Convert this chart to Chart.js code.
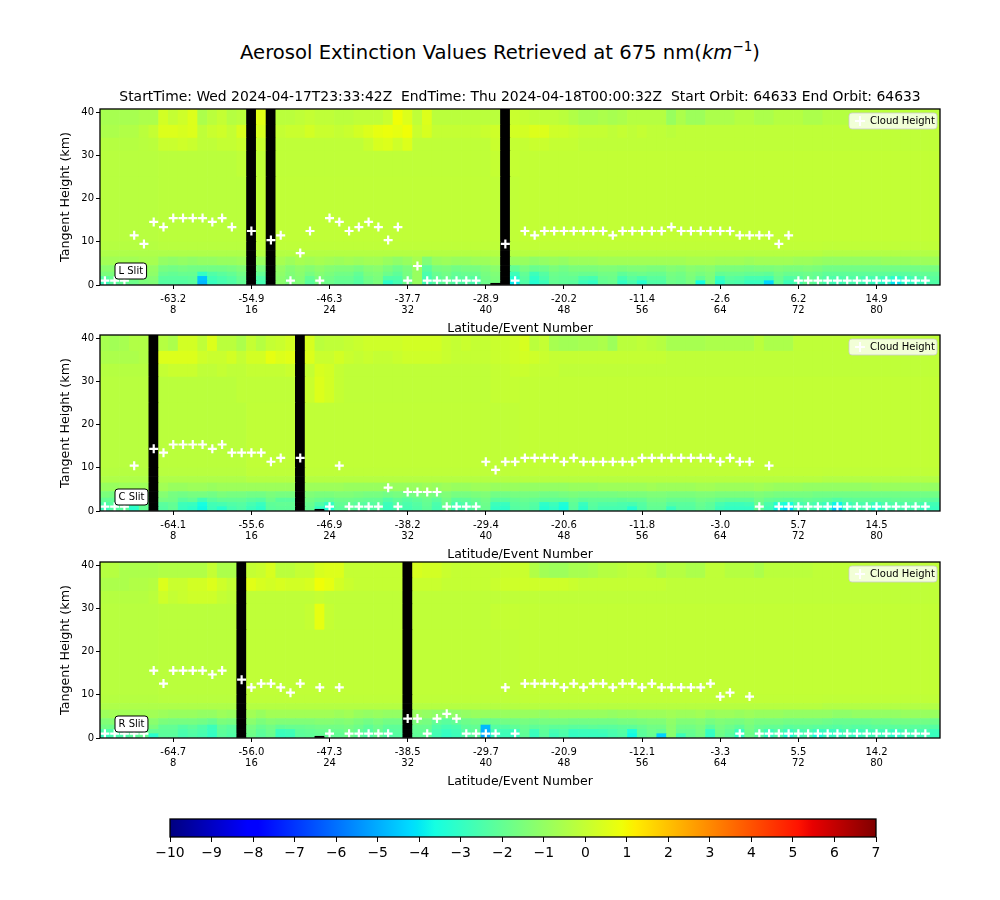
<!DOCTYPE html>
<html lang="en">

<head>
    <meta charset="UTF-8">
    <title>Aerosol Extinction Values</title>
    <script src="https://cdn.jsdelivr.net/npm/chart.js"></script>
    <style>
        body { margin: 0; background: #fff; font-family: "DejaVu Sans", sans-serif; }
        #page { position: relative; width: 1000px; height: 900px; overflow: hidden; }
        #page canvas { position: absolute; left: 0; }
        #suptitle { position: absolute; left: 0; width: 1000px; top: 40px; margin: 0; text-align: center; font-size: 19.6px; font-weight: normal; color: #000; line-height: 26px; }
        #suptitle sup { font-size: 13.5px; line-height: 0; }
    </style>
</head>

<body>
    <div id="page">
        <h1 id="suptitle">Aerosol Extinction Values Retrieved at 675 nm(<i>km</i><sup>−1</sup>)</h1>
        <canvas id="slitL" width="1000" height="266" style="top:70px"></canvas>
        <canvas id="slitC" width="1000" height="237" style="top:325px"></canvas>
        <canvas id="slitR" width="1000" height="237" style="top:552px"></canvas>
        <canvas id="colorbar" width="1000" height="70" style="top:800px"></canvas>
    </div>

    <script>
        const events = [];
        for (let i = 1; i <= 86; i++) events.push(i);

        const tickEvents = [8, 16, 24, 32, 40, 48, 56, 64, 72, 80];
        const latL = ["-63.2", "-54.9", "-46.3", "-37.7", "-28.9", "-20.2", "-11.4", "-2.6", "6.2", "14.9"];
        const latC = ["-64.1", "-55.6", "-46.9", "-38.2", "-29.4", "-20.6", "-11.8", "-3.0", "5.7", "14.5"];
        const latR = ["-64.7", "-56.0", "-47.3", "-38.5", "-29.7", "-20.9", "-12.1", "-3.3", "5.5", "14.2"];
        const colorbarTicks = [-10, -9, -8, -7, -6, -5, -4, -3, -2, -1, 0, 1, 2, 3, 4, 5, 6, 7];

        // km thickness of each stacked band, bottom to top
        const bandThickness = [0.4, 0.6, 1, 1, 1.5, 2, 1.5, 2, 15, 6, 3, 3, 4];

        // events with no retrieval (black columns) and events with only the lowest cell missing
        const maskedL = [16, 18, 42];
        const maskedC = [6, 21];
        const maskedR = [15, 32];
        const thinMaskedL = [41];
        const thinMaskedC = [23];
        const thinMaskedR = [23];

        const cloudL = [1, 1, 1, 11.5, 9.5, 14.6, 13.4, 15.5, 15.5, 15.5,
            15.5, 14.6, 15.5, 13.4, null, 12.5, null, 10.4, 11.5, 1,
            7.4, 12.5, 1, 15.5, 14.6, 12.5, 13.4, 14.6, 13.4, 10.4,
            13.4, 1, 4.4, 1, 1, 1, 1, 1, 1, null,
            null, 9.5, 1, 12.5, 11.5, 12.5, 12.5, 12.5, 12.5, 12.5,
            12.5, 12.5, 11.5, 12.5, 12.5, 12.5, 12.5, 12.5, 13.4, 12.5,
            12.5, 12.5, 12.5, 12.5, 12.5, 11.5, 11.5, 11.5, 11.5, 9.5,
            11.5, 1, 1, 1, 1, 1, 1, 1, 1, 1,
            1, 1, 1, 1, 1, null];
        const cloudC = [1, 1, 1, 10.5, null, 14.4, 13.5, 15.4, 15.4, 15.4,
            15.4, 14.4, 15.4, 13.5, 13.5, 13.5, 13.5, 11.4, 12.3, null,
            12.3, null, null, 1, 10.5, 1, 1, 1, 1, 5.4,
            1, 4.4, 4.4, 4.4, 4.4, 1, 1, 1, 1, 11.4,
            9.5, 11.4, 11.4, 12.3, 12.3, 12.3, 12.3, 11.4, 12.3, 11.4,
            11.4, 11.4, 11.4, 11.4, 11.4, 12.3, 12.3, 12.3, 12.3, 12.3,
            12.3, 12.3, 12.3, 11.4, 12.3, 11.4, 11.4, 1, 10.5, 1,
            1, 1, 1, 1, 1, 1, 1, 1, 1, 1,
            1, 1, 1, 1, 1, null];
        const cloudR = [1, 1, 1, 1, 1, 15.6, 12.6, 15.6, 15.6, 15.6,
            15.6, 14.7, 15.6, null, 13.5, 11.7, 12.6, 12.6, 11.7, 10.5,
            12.6, null, 11.7, 1, 11.7, 1, 1, 1, 1, 1,
            null, 4.5, 4.5, 1, 4.5, 5.6, 4.5, 1, 1, 1,
            1, 11.7, 1, 12.6, 12.6, 12.6, 12.6, 11.7, 12.6, 11.7,
            12.6, 12.6, 11.7, 12.6, 12.6, 11.7, 12.6, 11.7, 11.7, 11.7,
            11.7, 11.7, 12.6, 9.6, 10.5, 1, 9.6, 1, 1, 1,
            1, 1, 1, 1, 1, 1, 1, 1, 1, 1,
            1, 1, 1, 1, 1, null];

        // shared middle of the curtain
        const band6to8 = [-.45, -.45, -.45, -.45, -.45, -.45, -.45, -.45, -.45, -.45,
            -.45, -.45, -.45, -.45, -.45, -.32, -.32, -.32, -.32, -.32,
            -.32, -.32, -.32, -.32, -.32, -.32, -.32, -.32, -.32, -.32,
            -.32, -.32, -.32, -.32, -.32, -.32, -.32, -.32, -.32, -.32,
            -.32, -.32, -.32, -.28, -.28, -.28, -.28, -.28, -.28, -.28,
            -.28, -.28, -.28, -.28, -.28, -.28, -.28, -.28, -.28, -.28,
            -.28, -.28, -.28, -.28, -.28, -.28, -.28, -.28, -.28, -.28,
            -.28, -.28, -.28, -.28, -.38, -.38, -.38, -.38, -.38, -.38,
            -.38, -.38, -.38, -.38, -.38, -.38];
        const band8to10 = [-.3, -.3, -.3, -.3, -.3, -.3, -.25, -.25, -.25, -.25,
            -.25, -.25, -.25, -.25, -.25, -.12, -.12, -.12, -.12, -.12,
            -.12, -.12, -.12, -.12, -.12, -.12, -.12, -.12, -.12, -.12,
            -.12, -.12, -.12, -.12, -.12, -.12, -.12, -.12, -.12, -.12,
            -.12, -.12, -.12, -.08, -.08, -.08, -.08, -.08, -.08, -.08,
            -.08, -.08, -.08, -.08, -.08, -.08, -.08, -.08, -.08, -.08,
            -.08, -.08, -.08, -.08, -.08, -.08, -.08, -.08, -.08, -.08,
            -.08, -.08, -.08, -.08, -.1, -.1, -.1, -.1, -.1, -.1,
            -.1, -.1, -.1, -.1, -.1, -.1];
        const band10to25 = [-.25, -.25, -.25, -.25, -.25, -.25, -.2, -.2, -.2, -.2,
            -.2, -.2, -.2, -.2, -.2, -.08, -.08, -.08, -.08, -.08,
            -.08, -.08, -.08, -.08, -.08, -.08, -.08, -.08, -.08, -.08,
            -.08, -.08, -.08, -.08, -.08, -.08, -.08, -.08, -.08, -.08,
            -.08, -.08, -.08, -.05, -.05, -.05, -.05, -.05, -.05, -.05,
            -.05, -.05, -.05, -.05, -.05, -.05, -.05, -.05, -.05, -.05,
            -.05, -.05, -.05, -.05, -.05, -.05, -.05, -.05, -.05, -.05,
            -.05, -.05, -.05, -.05, -.05, -.05, -.05, -.05, -.05, -.05,
            -.05, -.05, -.05, -.05, -.05, -.05];

        // L slit
        const l0to1 = [-2.8, -2.2, -2.0, -1.8, -1.5, -1.4, -2.3, -2.3, -2.3, -2.2,
            -4.8, -2.9, -2.6, -2.4, -2.0, -1.0, -2.6, -1.0, -1.2, -1.5,
            -1.4, -2.2, -1.6, -1.8, -2.0, -2.0, -2.3, -1.8, -1.5, -3.1,
            -2.6, -1.8, -0.9, -2.7, -2.3, -2.1, -2.4, -2.4, -2.6, -1.8,
            -1.6, -1.0, -3.9, -2.4, -3.3, -2.8, -2.0, -2.1, -2.2, -2.8,
            -3.0, -2.0, -1.9, -3.0, -2.5, -3.2, -2.4, -2.4, -1.8, -1.9,
            -1.6, -3.6, -1.6, -3.2, -2.4, -2.5, -2.9, -2.9, -4.3, -2.0,
            -2.8, -2.5, -2.0, -2.2, -2.6, -2.8, -2.6, -2.6, -2.8, -3.0,
            -3.2, -4.0, -3.2, -3.0, -2.8, -2.4];
        const l1to2 = [-2.3, -1.9, -1.7, -1.6, -1.4, -1.3, -2.2, -2.2, -2.2, -2.1,
            -4.6, -2.7, -2.5, -2.3, -1.9, -1.0, -2.4, -1.0, -1.2, -1.5,
            -1.3, -2.0, -1.5, -1.7, -1.9, -1.9, -2.2, -1.7, -1.5, -2.4,
            -2.4, -1.7, -0.9, -2.6, -2.1, -1.9, -2.2, -2.2, -2.3, -1.7,
            -1.5, -1.0, -3.3, -2.2, -3.1, -2.5, -1.9, -2.0, -2.0, -2.5,
            -2.6, -1.9, -1.8, -2.6, -2.2, -2.5, -2.2, -2.2, -1.7, -1.8,
            -1.5, -2.0, -1.5, -2.8, -2.2, -2.3, -2.6, -2.6, -2.7, -1.9,
            -2.4, -2.3, -1.9, -2.1, -2.4, -2.5, -2.4, -2.4, -2.6, -2.6,
            -2.8, -3.2, -2.8, -2.6, -2.4, -2.2];
        const l2to3 = [-1.5, -1.5, -1.4, -1.3, -1.2, -1.1, -1.9, -2.0, -1.9, -1.9,
            -3.0, -2.4, -2.2, -2.0, -1.7, -1.0, -2.0, -1.0, -1.1, -1.4,
            -1.2, -1.6, -1.3, -1.5, -1.7, -1.7, -2.0, -1.5, -1.4, -1.8,
            -2.1, -1.6, -0.9, -2.5, -1.9, -1.7, -2.0, -1.9, -1.9, -1.6,
            -1.4, -1.0, -2.8, -2.0, -2.8, -2.3, -1.8, -1.9, -1.8, -1.9,
            -1.9, -1.7, -1.7, -2.1, -1.9, -1.8, -1.9, -1.9, -1.6, -1.7,
            -1.4, -1.6, -1.4, -2.0, -1.9, -1.9, -2.0, -2.0, -2.1, -1.7,
            -1.9, -1.9, -1.8, -1.9, -2.1, -2.1, -2.1, -2.1, -2.1, -2.1,
            -2.1, -2.2, -2.2, -2.1, -2.0, -2.0];
        const l3to4 = [-1.2, -1.2, -1.1, -1.1, -1.0, -1.0, -1.6, -1.7, -1.6, -1.7,
            -1.7, -1.7, -1.7, -1.6, -1.4, -1.0, -1.6, -1.0, -1.0, -1.3,
            -1.1, -1.3, -1.1, -1.3, -1.4, -1.4, -1.6, -1.3, -1.2, -1.5,
            -1.8, -1.5, -0.9, -2.2, -1.6, -1.5, -1.7, -1.6, -1.6, -1.4,
            -1.2, -1.0, -2.0, -1.6, -1.9, -1.8, -1.5, -1.7, -1.5, -1.5,
            -1.5, -1.4, -1.4, -1.5, -1.4, -1.4, -1.5, -1.5, -1.3, -1.4,
            -1.2, -1.3, -1.2, -1.5, -1.5, -1.5, -1.6, -1.5, -1.5, -1.4,
            -1.5, -1.5, -1.4, -1.5, -1.7, -1.7, -1.7, -1.7, -1.7, -1.7,
            -1.7, -1.7, -1.7, -1.7, -1.6, -1.6];
        const l4to6 = [-0.7, -0.7, -0.7, -0.7, -0.6, -0.6, -1.0, -1.1, -1.0, -1.1,
            -1.0, -1.0, -0.9, -0.9, -0.8, -0.8, -0.9, -0.8, -0.6, -0.8,
            -0.6, -0.7, -0.6, -0.7, -0.8, -0.7, -0.8, -0.7, -0.7, -0.9,
            -1.1, -0.9, -0.6, -1.4, -0.9, -0.8, -0.9, -0.9, -0.8, -0.8,
            -0.7, -0.8, -0.9, -0.9, -1.1, -1.0, -0.9, -1.0, -0.8, -0.8,
            -0.8, -0.7, -0.7, -0.7, -0.7, -0.7, -0.7, -0.7, -0.7, -0.7,
            -0.6, -0.6, -0.6, -0.7, -0.7, -0.7, -0.8, -0.7, -0.7, -0.7,
            -0.7, -0.8, -0.8, -0.9, -1.0, -1.0, -1.0, -1.0, -1.0, -1.0,
            -0.9, -0.9, -0.9, -0.8, -0.8, -0.8];
        const l25to31 = [-.25, -.25, -.25, -.25, -.25, -.25, -.2, -.2, -.2, -.2,
            -.2, -.2, -.2, -.2, -.1, -.1, -.1, -.1, -.1, -.1,
            -.1, -.1, -.1, -.1, -.1, -.1, -.1, -.1, -.1, -.1,
            -.1, -.1, -.1, -.1, -.1, -.1, -.1, -.1, -.1, -.1,
            0, 0, 0, -.05, -.05, -.05, -.05, -.05, -.05, -.05,
            -.05, -.05, -.05, -.05, -.05, -.05, -.05, -.05, -.05, -.05,
            -.05, -.05, -.05, -.05, -.05, -.05, -.05, -.05, -.05, -.05,
            -.05, -.05, -.05, -.05, -.05, -.05, -.05, -.05, -.05, -.05,
            -.05, -.05, -.05, -.05, -.05, -.05];
        const l31to34 = [-.3, -.3, -.3, -.3, -.25, -.2, .1, .1, .2, .1,
            -.1, -.1, 0, 0, .1, -1, .1, -1, -.1, -.1,
            -.1, -.1, -.1, -.1, -.1, -.1, -.1, .1, .4, .5,
            .2, .5, -.1, -.1, -.1, -.1, -.1, -.1, -.1, -.1,
            .1, -1, 0, 0, .1, .1, 0, 0, 0, -.1,
            -.1, -.1, -.1, -.1, -.1, -.1, -.1, -.1, -.1, -.1,
            -.1, -.1, -.1, -.1, -.1, -.1, -.1, -.1, -.1, -.1,
            -.1, -.1, -.1, -.1, -.1, -.1, -.1, -.1, -.1, -.1,
            -.1, -.1, -.1, -.1, -.1, -.1];
        const l34to37 = [-.5, -.5, -.4, -.4, -.2, 0, .5, .5, .4, .5,
            -.1, .1, .2, 0, .4, -1, .4, -1, 0, .1,
            .1, .3, .1, .1, 0, .1, .3, .5, .7, .8,
            .7, .9, .1, .4, 0, 0, 0, 0, 0, .1,
            .2, -1, .3, .3, .5, .5, .2, .2, .1, 0,
            0, 0, -.1, 0, -.1, 0, -.1, -.1, -.2, -.1,
            -.1, -.1, -.1, -.1, -.1, -.1, -.1, -.1, -.1, -.1,
            -.1, -.1, -.1, -.1, -.1, -.1, -.1, -.1, -.1, -.1,
            -.1, -.1, -.1, -.1, -.1, -.1];
        const l37to41 = [-.6, -.6, -.6, -.6, -.5, -.5, .3, 0, .2, .5,
            -.5, -.2, 0, -.3, -.2, -1, .6, -1, -.2, -.2,
            -.1, 0, -.1, -.1, -.2, -.2, -.1, -.1, -.1, .1,
            .9, .5, -.1, .5, -.2, -.2, -.2, -.2, -.2, -.2,
            -.2, -1, .1, 0, -.1, -.1, -.1, -.2, -.4, -.6,
            -.6, -.5, -.6, -.5, -.3, -.3, -.3, -.3, -.9, -.5,
            -.8, -.8, -.5, -.5, -.5, -.3, -.3, -.5, -.5, -.3,
            -.3, -.3, -.5, -.5, -.3, -.3, -.3, -.2, -.2, -.2,
            -.2, -.2, -.2, -.2, -.2, -.2];

        // C slit
        const c0to1 = [-2.8, -2.3, -2.2, -3.2, -2.0, -1.0, -2.3, -2.0, -2.9, -3.1,
            -3.7, -2.8, -3.2, -2.6, -2.4, -2.8, -3.1, -2.2, -2.1, -2.1,
            -1.0, -2.0, -3.0, -3.4, -2.2, -2.1, -2.3, -2.4, -2.3, -2.9,
            -2.5, -2.6, -2.4, -2.1, -2.6, -1.9, -2.7, -2.5, -2.2, -1.9,
            -3.0, -3.1, -2.3, -2.2, -2.4, -3.3, -3.0, -3.6, -2.2, -3.1,
            -2.3, -2.6, -2.6, -2.6, -3.3, -2.4, -2.0, -2.0, -2.9, -2.3,
            -2.3, -2.0, -2.2, -2.8, -3.0, -3.0, -3.0, -2.0, -2.7, -3.8,
            -4.2, -2.8, -2.5, -2.7, -3.2, -4.5, -3.0, -2.7, -2.6, -3.4,
            -2.7, -2.6, -2.6, -2.6, -2.9, -2.9];
        const c1to2 = [-2.4, -2.2, -2.1, -2.6, -1.9, -1.0, -2.2, -2.0, -2.8, -2.9,
            -3.6, -2.7, -2.6, -2.4, -2.3, -2.6, -2.9, -2.1, -2.0, -2.0,
            -1.0, -1.9, -2.4, -3.0, -2.0, -2.0, -2.2, -2.3, -2.2, -2.8,
            -2.3, -2.5, -2.3, -2.0, -2.5, -1.8, -2.6, -2.4, -2.1, -1.8,
            -2.8, -2.9, -2.2, -2.1, -2.3, -3.1, -2.8, -3.4, -2.1, -2.9,
            -2.2, -2.4, -2.4, -2.5, -2.6, -2.3, -1.9, -1.9, -2.3, -2.2,
            -2.2, -1.9, -2.1, -2.6, -2.8, -2.8, -2.7, -1.9, -2.5, -3.3,
            -3.6, -2.6, -2.4, -2.6, -2.9, -3.8, -2.8, -2.5, -2.5, -2.9,
            -2.5, -2.4, -2.4, -2.4, -2.6, -2.7];
        const c2to3 = [-2.0, -2.0, -1.9, -2.1, -1.7, -1.0, -1.6, -1.7, -2.2, -2.0,
            -2.7, -2.2, -2.0, -2.0, -2.0, -2.2, -2.3, -1.8, -2.2, -2.2,
            -1.0, -1.7, -1.9, -2.0, -1.8, -1.8, -1.9, -2.0, -2.0, -2.4,
            -2.1, -2.3, -2.1, -1.9, -2.2, -1.7, -2.2, -2.1, -1.9, -1.7,
            -2.2, -2.2, -2.0, -1.9, -2.0, -2.1, -2.1, -2.1, -1.9, -2.1,
            -2.0, -2.0, -2.0, -2.1, -2.0, -2.0, -1.7, -1.7, -1.9, -1.9,
            -1.9, -1.7, -1.8, -2.0, -2.1, -2.1, -2.1, -1.7, -2.0, -2.1,
            -2.2, -2.1, -2.0, -2.1, -2.2, -2.4, -2.2, -2.1, -2.1, -2.1,
            -2.1, -2.0, -2.0, -2.0, -2.1, -2.2];
        const c3to4 = [-1.5, -1.6, -1.5, -1.6, -1.4, -1.0, -1.3, -1.6, -1.7, -1.6,
            -1.6, -1.7, -1.5, -1.6, -1.6, -1.7, -1.7, -1.5, -1.6, -1.6,
            -1.0, -1.4, -1.5, -1.5, -1.4, -1.4, -1.5, -1.6, -1.6, -1.7,
            -1.6, -1.7, -1.6, -1.5, -1.6, -1.4, -1.6, -1.6, -1.5, -1.4,
            -1.7, -1.7, -1.6, -1.6, -1.6, -1.7, -1.7, -1.6, -1.5, -1.6,
            -1.6, -1.6, -1.6, -1.5, -1.5, -1.5, -1.4, -1.4, -1.5, -1.5,
            -1.5, -1.4, -1.4, -1.5, -1.5, -1.5, -1.5, -1.4, -1.5, -1.6,
            -1.6, -1.6, -1.6, -1.7, -1.7, -1.7, -1.7, -1.7, -1.7, -1.7,
            -1.7, -1.7, -1.7, -1.7, -1.7, -1.7];
        const c4to6 = [-0.9, -0.9, -0.8, -0.8, -0.8, -0.8, -0.7, -0.9, -0.9, -0.8,
            -0.8, -0.9, -0.8, -0.8, -0.8, -0.8, -0.8, -0.8, -0.8, -0.8,
            -0.8, -0.8, -0.8, -0.8, -0.8, -0.9, -0.9, -0.9, -0.9, -0.9,
            -0.9, -0.9, -0.9, -0.8, -0.9, -0.8, -0.9, -0.9, -0.8, -0.8,
            -0.9, -0.9, -0.9, -1.0, -1.0, -1.0, -1.0, -1.0, -0.9, -0.9,
            -0.9, -0.8, -0.8, -0.8, -0.8, -0.8, -0.7, -0.8, -0.8, -0.8,
            -0.8, -0.7, -0.7, -0.8, -0.8, -0.8, -0.8, -0.7, -0.8, -0.9,
            -0.9, -0.9, -1.0, -1.0, -1.0, -1.0, -1.0, -1.0, -1.0, -0.9,
            -0.9, -0.9, -0.9, -0.9, -0.9, -1.0];
        const c25to31 = [-.25, -.25, -.25, -.25, -.25, -.25, -.2, -.2, -.2, -.2,
            -.2, -.2, -.2, -.2, -.1, -.1, -.1, -.1, -.1, -.1,
            -.1, .1, .5, .3, 0, -.1, -.1, -.1, -.1, -.1,
            -.1, -.1, -.1, -.1, -.1, -.1, -.1, -.1, -.1, -.1,
            0, 0, 0, -.05, -.05, -.05, -.05, -.05, -.05, -.05,
            -.05, -.05, -.05, -.05, -.05, -.05, -.05, -.05, -.05, -.05,
            -.05, -.05, -.05, -.05, -.05, -.05, -.05, -.05, -.05, -.05,
            -.05, -.05, -.05, -.05, -.05, -.05, -.05, -.05, -.05, -.05,
            -.05, -.05, -.05, -.05, -.05, -.05];
        const c31to34 = [-.3, -.3, -.3, -.3, -.3, -1, 0, .1, .1, .1,
            -.1, -.1, 0, -.1, -.1, 0, 0, 0, 0, .1,
            -1, 0, .4, .3, 0, -.1, -.1, -.1, -.1, -.1,
            -.1, -.1, -.1, -.1, -.1, -.1, -.1, -.1, -.1, -.1,
            0, 0, .1, .1, 0, 0, 0, -.1, -.1, -.1,
            -.1, -.1, -.1, -.1, -.1, -.1, -.1, -.1, -.1, -.1,
            -.1, -.1, -.1, -.1, -.1, -.1, -.1, -.1, -.1, -.1,
            -.1, -.1, -.1, -.1, -.1, -.1, -.1, -.1, -.1, -.1,
            -.1, -.1, -.1, -.1, -.1, -.1];
        const c34to37 = [-.5, -.5, -.5, -.5, -.4, -1, .5, .5, .5, .5,
            .2, .1, .1, .3, 0, .3, .3, .7, .5, .6,
            -1, .5, .1, .1, .3, .1, 0, .1, 0, 0,
            .1, .2, .2, .2, .2, .1, 0, 0, 0, 0,
            .1, .1, .2, .3, .2, .1, 0, 0, 0, 0,
            0, 0, 0, 0, 0, 0, 0, 0, -.1, -.1,
            -.1, -.1, -.1, -.1, -.1, -.1, -.1, -.1, -.1, -.1,
            -.1, -.1, -.1, -.1, -.1, -.1, -.1, -.1, -.1, -.1,
            -.1, -.1, -.1, -.1, -.1, -.1];
        const c37to41 = [-.6, -.7, -.6, -.4, -.4, -1, -.3, -.5, .3, .3,
            -.1, .5, -.2, -.2, -.5, 0, -.3, 0, .1, .3,
            -1, .4, -.2, -.1, -.1, 0, .1, .2, .2, .2,
            .2, .3, .3, .3, .3, .1, 0, .1, 0, 0,
            .1, .1, .2, .4, -.2, 0, -.6, -.7, -.7, -.6,
            -.6, -.5, -.8, -.2, -.2, -.1, -.2, -.3, -.6, -.6,
            -.6, -.6, -.5, -.5, -.5, -.5, -.5, -.2, -.5, -.5,
            -.5, -.1, -.1, -.1, -.1, -.1, -.1, -.1, -.1, -.1,
            -.1, -.1, -.1, -.1, -.1, -.1];

        // R slit
        const r0to1 = [-2.9, -2.6, -2.5, -2.2, -2.0, -3.2, -2.2, -2.2, -2.6, -2.4,
            -2.6, -3.0, -2.2, -2.4, -1.0, -1.8, -2.2, -1.9, -2.9, -2.8,
            -2.2, -2.1, -2.0, -2.0, -2.0, -1.8, -2.1, -2.4, -2.0, -2.4,
            -2.3, -1.0, -2.1, -2.1, -2.7, -3.0, -2.8, -2.4, -2.2, -5.0,
            -2.9, -2.8, -3.0, -2.1, -2.9, -2.2, -2.8, -2.5, -3.0, -2.9,
            -2.9, -2.9, -2.6, -2.4, -3.7, -2.2, -1.9, -4.4, -1.2, -2.8,
            -2.0, -1.7, -3.0, -1.8, -2.2, -3.1, -1.8, -2.3, -3.0, -2.5,
            -3.4, -2.8, -2.6, -3.5, -3.0, -3.0, -2.8, -3.0, -2.8, -2.8,
            -2.9, -3.2, -2.8, -2.8, -2.8, -2.9];
        const r1to2 = [-2.5, -2.4, -2.3, -2.1, -1.9, -2.0, -2.1, -2.1, -2.5, -2.3,
            -2.5, -2.9, -2.1, -2.3, -1.0, -1.7, -2.1, -1.8, -2.8, -2.7,
            -2.1, -2.0, -1.9, -1.9, -1.9, -1.7, -2.0, -2.3, -1.9, -2.3,
            -2.2, -1.0, -2.0, -2.0, -2.6, -2.9, -2.7, -2.3, -2.1, -4.9,
            -2.7, -2.7, -2.9, -2.0, -2.8, -2.1, -2.6, -2.4, -2.9, -2.8,
            -2.8, -2.7, -2.5, -2.3, -3.4, -2.1, -1.8, -2.0, -1.2, -1.9,
            -1.9, -1.6, -2.9, -1.7, -2.0, -2.9, -1.7, -2.2, -2.8, -2.4,
            -2.9, -2.6, -2.5, -2.9, -2.9, -2.9, -2.6, -2.8, -2.7, -2.7,
            -2.7, -2.9, -2.6, -2.6, -2.6, -2.8];
        const r2to3 = [-1.7, -1.8, -1.7, -1.6, -1.5, -1.5, -2.0, -2.0, -2.3, -2.1,
            -2.4, -2.8, -2.0, -2.2, -1.0, -1.6, -1.9, -1.7, -2.0, -1.9,
            -1.9, -1.8, -1.7, -1.7, -1.7, -1.6, -1.8, -2.1, -1.8, -2.1,
            -2.1, -1.0, -1.9, -1.9, -2.4, -2.6, -2.5, -2.1, -2.0, -4.8,
            -2.3, -2.3, -2.1, -1.9, -2.1, -2.0, -2.1, -2.1, -2.2, -2.2,
            -2.1, -2.2, -2.2, -2.1, -2.1, -1.9, -1.7, -1.7, -1.2, -1.7,
            -1.7, -1.5, -2.1, -1.6, -1.8, -2.1, -1.6, -1.9, -2.0, -2.0,
            -2.2, -2.1, -2.1, -2.2, -2.2, -2.3, -2.2, -2.3, -2.3, -2.2,
            -2.2, -2.2, -2.1, -2.2, -2.2, -2.3];
        const r3to4 = [-1.4, -1.3, -1.3, -1.3, -1.2, -1.2, -1.5, -1.6, -1.6, -1.6,
            -1.7, -1.9, -1.5, -1.6, -1.0, -1.2, -1.5, -1.3, -1.4, -1.4,
            -1.4, -1.4, -1.3, -1.3, -1.4, -1.3, -1.5, -1.7, -1.5, -1.7,
            -1.7, -1.0, -1.5, -1.6, -2.0, -2.2, -2.0, -1.8, -1.7, -1.9,
            -1.8, -1.7, -1.7, -1.6, -1.7, -1.6, -1.6, -1.6, -1.7, -1.7,
            -1.7, -1.7, -1.7, -1.6, -1.6, -1.5, -1.4, -1.4, -1.1, -1.4,
            -1.4, -1.3, -1.6, -1.4, -1.5, -1.6, -1.4, -1.6, -1.6, -1.6,
            -1.7, -1.7, -1.7, -1.7, -1.8, -1.9, -1.9, -1.9, -1.9, -1.8,
            -1.8, -1.7, -1.7, -1.7, -1.7, -1.8];
        const r4to6 = [-0.8, -0.7, -0.7, -0.7, -0.7, -0.7, -0.8, -0.9, -0.9, -0.9,
            -1.0, -1.0, -0.8, -0.9, -0.8, -0.7, -0.9, -0.7, -0.7, -0.7,
            -0.7, -0.7, -0.7, -0.7, -0.8, -0.7, -0.9, -1.0, -0.9, -1.0,
            -1.0, -0.8, -0.9, -1.0, -1.1, -1.2, -1.1, -1.0, -0.9, -0.9,
            -0.9, -0.9, -0.9, -0.9, -0.9, -1.0, -0.9, -0.9, -0.9, -0.9,
            -0.9, -0.9, -1.0, -0.9, -0.9, -0.8, -0.8, -0.8, -0.7, -0.8,
            -0.8, -0.7, -0.9, -0.8, -0.8, -0.9, -0.8, -0.9, -0.9, -0.9,
            -1.0, -1.0, -1.0, -1.0, -1.0, -1.1, -1.1, -1.0, -1.0, -1.0,
            -1.0, -1.0, -0.9, -0.9, -0.9, -0.9];
        const r25to31 = [-.25, -.25, -.25, -.25, -.25, -.25, -.2, -.2, -.2, -.2,
            -.2, -.2, -.2, -.2, -.1, -.1, -.1, -.1, -.1, -.1,
            -.1, 0, .7, 0, -.1, -.1, -.1, -.1, -.1, -.1,
            -.1, -.1, -.1, -.1, -.1, -.1, -.1, -.1, -.1, -.1,
            0, 0, 0, -.05, -.05, -.05, -.05, -.05, -.05, -.05,
            -.05, -.05, -.05, -.05, -.05, -.05, -.05, -.05, -.05, -.05,
            -.05, -.05, -.05, -.05, -.05, -.05, -.05, -.05, -.05, -.05,
            -.05, -.05, -.05, -.05, -.05, -.05, -.05, -.05, -.05, -.05,
            -.05, -.05, -.05, -.05, -.05, -.05];
        const r31to34 = [-.3, -.3, -.3, -.3, -.3, -.2, .2, 0, .1, .2,
            .2, .2, 0, -.1, -1, -.1, -.1, -.1, -.1, -.1,
            -.1, -.1, 0, -.1, -.1, -.1, -.1, -.1, -.1, -.1,
            -.1, -1, -.1, -.1, -.1, -.1, -.1, -.1, -.1, -.1,
            -.1, -.1, -.1, -.1, -.1, -.1, -.1, -.1, -.1, -.1,
            -.1, -.1, -.1, -.1, -.1, -.1, -.1, -.1, -.1, -.1,
            -.1, -.1, -.1, -.1, -.1, -.1, -.1, -.1, -.1, -.1,
            -.1, -.1, -.1, -.1, -.1, -.1, -.1, -.1, -.1, -.1,
            -.1, -.1, -.1, -.1, -.1, -.1];
        const r34to37 = [-.5, -.5, -.5, -.4, -.4, -.3, .5, .1, .1, .3,
            .3, .5, .2, 0, -1, .6, .4, .3, .4, .3,
            .3, .4, .9, .7, .3, .1, 0, 0, 0, 0,
            0, -1, .1, .1, .1, 0, 0, 0, 0, 0,
            .1, .2, .2, .2, .2, .2, .2, .2, .1, 0,
            0, 0, 0, 0, 0, 0, 0, 0, -.1, -.1,
            -.1, -.1, -.1, -.1, -.1, -.1, -.1, -.1, -.1, -.1,
            -.1, -.1, -.1, -.1, -.1, -.1, -.1, -.1, -.1, -.1,
            -.1, -.1, -.1, -.1, -.1, -.1];
        const r37to41 = [-.3, -.3, -.5, -.5, -.5, -.5, -.4, -.4, -.4, -.4,
            -.4, 0, -.5, -.5, -1, 0, .1, .4, -.2, -.2,
            0, 0, .4, .5, .5, 0, 0, 0, 0, 0,
            0, -1, .4, .3, .3, .1, 0, 0, 0, 0,
            0, .1, .1, .1, -.4, -.7, -.8, -.8, -.6, -.6,
            -.5, -.3, -.3, -.2, -.1, -.1, -.2, -.5, -.3, -.3,
            -.5, -.5, -.1, -.1, -.3, -.3, -.3, -.5, -.2, -.2,
            -.2, -.2, -.2, -.1, -.1, -.1, -.1, -.1, -.1, -.1,
            -.1, -.1, -.1, -.1, -.1, -.1];

        // matplotlib jet anchors [position, level]
        const jetRed = [[0, 0], [0.35, 0], [0.66, 1], [0.89, 1], [1, 0.5]];
        const jetGreen = [[0, 0], [0.125, 0], [0.375, 1], [0.64, 1], [0.91, 0], [1, 0]];
        const jetBlue = [[0, 0.5], [0.11, 1], [0.34, 1], [0.65, 0], [1, 0]];

        function level(anchors, x) {
            for (let i = 1; i < anchors.length; i++) {
                if (x <= anchors[i][0]) {
                    const [x0, y0] = anchors[i - 1];
                    const [x1, y1] = anchors[i];
                    return y0 + (y1 - y0) * (x - x0) / (x1 - x0);
                }
            }
            return anchors[anchors.length - 1][1];
        }

        function jetAt(x) {
            const r = Math.round(level(jetRed, x) * 255);
            const g = Math.round(level(jetGreen, x) * 255);
            const b = Math.round(level(jetBlue, x) * 255);
            return `rgb(${r},${g},${b})`;
        }

        const vMin = colorbarTicks[0];
        const vMax = colorbarTicks[colorbarTicks.length - 1];
        const jet = v => jetAt((v - vMin) / (vMax - vMin));

        // black frame round the plot and small boxes inside it
        const framePlugin = {
            id: "frame",
            afterDatasetsDraw(chart) {
                const { ctx, chartArea: a } = chart;
                ctx.save();
                const slit = chart.options.plugins.frame.slit;
                if (slit) {
                    ctx.font = '10px "DejaVu Sans"';
                    ctx.textBaseline = "middle";
                    // slit label
                    const w = ctx.measureText(slit).width + 7;
                    ctx.beginPath();
                    ctx.roundRect(a.left + 15, a.bottom - 22, w, 16, 3);
                    ctx.fillStyle = "#fff";
                    ctx.fill();
                    ctx.strokeStyle = "#000";
                    ctx.lineWidth = 1;
                    ctx.stroke();
                    ctx.fillStyle = "#000";
                    ctx.fillText(slit, a.left + 18.5, a.bottom - 14);
                    // legend
                    ctx.beginPath();
                    ctx.roundRect(a.right - 91, a.top + 4, 88, 16, 3);
                    ctx.fillStyle = "rgba(255,255,255,0.8)";
                    ctx.fill();
                    ctx.strokeStyle = "rgba(204,204,204,0.8)";
                    ctx.stroke();
                    ctx.strokeStyle = "#fff";
                    ctx.lineWidth = 2;
                    ctx.beginPath();
                    ctx.moveTo(a.right - 85, a.top + 12);
                    ctx.lineTo(a.right - 75, a.top + 12);
                    ctx.moveTo(a.right - 80, a.top + 7);
                    ctx.lineTo(a.right - 80, a.top + 17);
                    ctx.stroke();
                    ctx.fillStyle = "#000";
                    ctx.fillText("Cloud Height", a.right - 70, a.top + 12);
                }
                ctx.strokeStyle = "#000";
                ctx.lineWidth = 1.3;
                ctx.strokeRect(a.left, a.top, a.right - a.left, a.bottom - a.top);
                ctx.restore();
            }
        };

        function slitChart(canvasId, opts) {
            const rows = [opts.rows[0], opts.rows[0], opts.rows[1], opts.rows[2], opts.rows[3], opts.rows[4],
                band6to8, band8to10, band10to25, opts.rows[5], opts.rows[6], opts.rows[7], opts.rows[8]];

            const datasets = [{
                type: "line",
                label: "Cloud Height",
                data: opts.cloud,
                showLine: false,
                pointStyle: "cross",
                pointRadius: 4.5,
                pointBorderWidth: 2.2,
                pointBorderColor: "#fff",
                pointBackgroundColor: "#fff",
                order: 0
            }];

            bandThickness.forEach((km, b) => {
                datasets.push({
                    type: "bar",
                    data: events.map(() => km),
                    backgroundColor: events.map((ev, i) => {
                        if (opts.masked.includes(ev)) return "#000";
                        if (b === 0 && opts.thin.includes(ev)) return "#000";
                        return jet(rows[b][i]);
                    }),
                    borderWidth: 0,
                    barPercentage: 1,
                    categoryPercentage: 1,
                    stack: "curtain",
                    order: 1
                });
            });

            return new Chart(document.getElementById(canvasId), {
                data: { labels: events, datasets },
                plugins: [framePlugin],
                options: {
                    responsive: false,
                    animation: false,
                    devicePixelRatio: 1,
                    layout: { padding: { left: 0, right: 60, top: opts.top, bottom: 0 } },
                    plugins: {
                        legend: { display: false },
                        tooltip: { enabled: false },
                        frame: { slit: opts.slit },
                        title: {
                            display: !!opts.title,
                            text: opts.title,
                            fullSize: false,
                            color: "#000",
                            font: { family: "DejaVu Sans", size: 13.9, weight: "normal" },
                            padding: { top: 0, bottom: 3 }
                        }
                    },
                    scales: {
                        x: {
                            type: "category",
                            stacked: true,
                            grid: { offset: false, drawOnChartArea: false, drawTicks: true, tickLength: 4, tickColor: "#000" },
                            border: { display: false },
                            ticks: {
                                autoSkip: false,
                                maxRotation: 0,
                                padding: 5,
                                color: "#000",
                                font: { family: "DejaVu Sans", size: 10, lineHeight: 1.1 },
                                callback: function (value) {
                                    const n = tickEvents.indexOf(events[value]);
                                    return [opts.lat[n], String(tickEvents[n])];
                                }
                            },
                            title: {
                                display: true,
                                text: "Latitude/Event Number",
                                color: "#000",
                                font: { family: "DejaVu Sans", size: 12.5 },
                                padding: 0
                            },
                            afterBuildTicks: s => {
                                s.ticks = s.ticks.filter(t => tickEvents.includes(events[t.value]));
                            },
                            afterFit: s => { s.height = 51; }
                        },
                        y: {
                            type: "linear",
                            stacked: true,
                            min: 0,
                            max: 40.75,
                            grid: { drawOnChartArea: false, drawTicks: true, tickLength: 4, tickColor: "#000" },
                            border: { display: false },
                            ticks: {
                                stepSize: 10,
                                includeBounds: false,
                                padding: 2,
                                color: "#000",
                                font: { family: "DejaVu Sans", size: 10 }
                            },
                            title: {
                                display: true,
                                text: "Tangent Height (km)",
                                color: "#000",
                                font: { family: "DejaVu Sans", size: 12.7 },
                                padding: { top: 58, bottom: 0 }
                            },
                            afterFit: s => { s.width = 100; }
                        }
                    }
                }
            });
        }

        slitChart("slitL", {
            slit: "L Slit", lat: latL, cloud: cloudL, masked: maskedL, thin: thinMaskedL, top: 19.3,
            title: "StartTime: Wed 2024-04-17T23:33:42Z  EndTime: Thu 2024-04-18T00:00:32Z  Start Orbit: 64633 End Orbit: 64633",
            rows: [l0to1, l1to2, l2to3, l3to4, l4to6, l25to31, l31to34, l34to37, l37to41]
        });
        slitChart("slitC", {
            slit: "C Slit", lat: latC, cloud: cloudC, masked: maskedC, thin: thinMaskedC, top: 10,
            rows: [c0to1, c1to2, c2to3, c3to4, c4to6, c25to31, c31to34, c34to37, c37to41]
        });
        slitChart("slitR", {
            slit: "R Slit", lat: latR, cloud: cloudR, masked: maskedR, thin: thinMaskedR, top: 10,
            rows: [r0to1, r1to2, r2to3, r3to4, r4to6, r25to31, r31to34, r34to37, r37to41]
        });

        // colorbar gradient stops where the jet anchors sit
        const jetStops = [0, 0.11, 0.125, 0.34, 0.35, 0.375, 0.64, 0.65, 0.66, 0.89, 0.91, 1];

        new Chart(document.getElementById("colorbar"), {
            type: "bar",
            data: {
                labels: ["colorbar"],
                datasets: [{
                    data: [[vMin, vMax]],
                    borderWidth: 0,
                    barPercentage: 1,
                    categoryPercentage: 1,
                    backgroundColor: c => {
                        const a = c.chart.chartArea;
                        if (!a) return "#000";
                        const g = c.chart.ctx.createLinearGradient(a.left, 0, a.right, 0);
                        jetStops.forEach(x => g.addColorStop(x, jetAt(x)));
                        return g;
                    }
                }]
            },
            plugins: [framePlugin],
            options: {
                indexAxis: "y",
                responsive: false,
                animation: false,
                devicePixelRatio: 1,
                layout: { padding: { left: 170, right: 124, top: 19, bottom: 0 } },
                plugins: { legend: { display: false }, tooltip: { enabled: false }, frame: {} },
                scales: {
                    y: { display: false },
                    x: {
                        type: "linear",
                        min: vMin,
                        max: vMax,
                        grid: { drawOnChartArea: false, drawTicks: true, tickLength: 5, tickColor: "#000" },
                        border: { display: false },
                        ticks: {
                            stepSize: 1,
                            autoSkip: false,
                            maxRotation: 0,
                            padding: 3,
                            color: "#000",
                            font: { family: "DejaVu Sans", size: 13.9 },
                            callback: v => String(v).replace("-", "−")
                        },
                        afterFit: s => { s.height = 33; }
                    }
                }
            }
        });
    </script>
</body>

</html>
